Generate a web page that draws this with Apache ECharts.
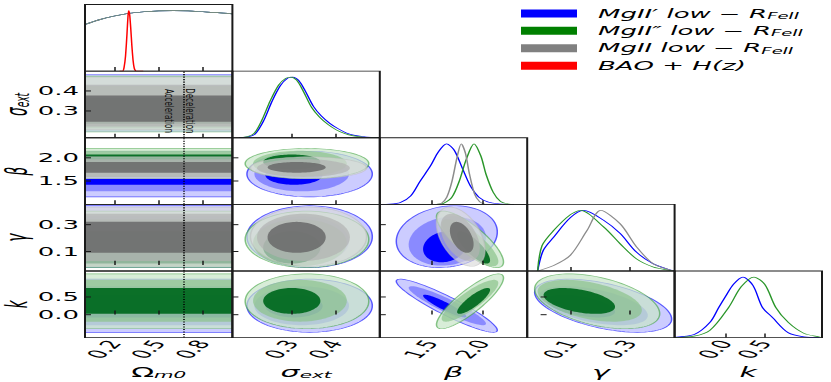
<!DOCTYPE html>
<html lang="en">
<head>
    <meta charset="UTF-8">
    <title>MgII triangle plot</title>
    <script src="https://cdn.jsdelivr.net/npm/echarts@6.0.0/dist/echarts.min.js"></script>
    <style>
        html, body { margin: 0; padding: 0; background: #fff; overflow: hidden; }
        #wrap { width: 831px; height: 382px; overflow: hidden; }
        /* drawn with square panels, then squeezed vertically like the published figure */
        #main { width: 831px; height: 840px; transform: scaleY(0.454762); transform-origin: 0 0; }
    </style>
</head>
<body>
<div id="wrap"><div id="main"></div></div>
<script>
// parameter order: Omega_m0, sigma_ext, beta, gamma, k
const axisRanges = [[0, 1], [0.165, 0.5], [1.0, 2.43], [-0.045, 0.45], [-0.65, 1.23]];
const axisTicks = [[0.2, 0.5, 0.8], [0.3, 0.4], [1.5, 2.0], [0.1, 0.3], [0.0, 0.5]];
const axisNames = ['{m|Ω}{s|m0}', '{i|σ}{s|ext}', '{i|β}', '{i|γ}', '{i|k}'];
const legendNames = ['MgII′ low − R_FeII', 'MgII″ low − R_FeII', 'MgII low − R_FeII', 'BAO + H(z)'];
const decelOmega = 0.667;

// 1D marginals, [value, P/Pmax]
const omegaFlat = [[0, 0.77], [0.1, 0.85], [0.2, 0.91], [0.3, 0.955], [0.4, 0.98], [0.5, 0.995], [0.6, 1.0], [0.7, 0.995], [0.8, 0.98], [0.9, 0.965], [1.0, 0.945]];
const baoOmega = [[0.235, 0], [0.255, 0], [0.265, 0.06], [0.275, 0.25], [0.285, 0.62], [0.292, 0.92], [0.297, 1.0], [0.303, 0.93], [0.31, 0.72], [0.318, 0.42], [0.326, 0.18], [0.334, 0.05], [0.342, 0.008], [0.35, 0], [0.395, 0]];
const blueSigma = [[0.18, 0], [0.2, 0.015], [0.217, 0.065], [0.236, 0.28], [0.255, 0.6], [0.274, 0.86], [0.29, 0.98], [0.302, 1.0], [0.315, 0.95], [0.33, 0.78], [0.349, 0.52], [0.367, 0.36], [0.386, 0.24], [0.405, 0.15], [0.424, 0.08], [0.443, 0.04], [0.461, 0.02], [0.48, 0.008], [0.5, 0.002]];
const greenSigma = [[0.18, 0], [0.2, 0.02], [0.215, 0.075], [0.232, 0.29], [0.251, 0.61], [0.27, 0.87], [0.286, 0.98], [0.298, 1.0], [0.311, 0.95], [0.326, 0.77], [0.345, 0.5], [0.363, 0.34], [0.382, 0.22], [0.401, 0.13], [0.42, 0.07], [0.44, 0.03], [0.46, 0.012], [0.48, 0.004], [0.5, 0.001]];
const blueBeta = [[1.0, 0], [1.1, 0.004], [1.2, 0.03], [1.3, 0.14], [1.39, 0.38], [1.49, 0.63], [1.57, 0.87], [1.647, 1.0], [1.72, 0.9], [1.8, 0.6], [1.88, 0.3], [1.96, 0.12], [2.05, 0.04], [2.15, 0.01], [2.3, 0]];
const greenBeta = [[1.55, 0], [1.62, 0.02], [1.7, 0.12], [1.77, 0.38], [1.84, 0.75], [1.914, 1.0], [1.98, 0.8], [2.03, 0.5], [2.1, 0.2], [2.17, 0.05], [2.25, 0.005], [2.3, 0]];
const grayBeta = [[1.55, 0], [1.6, 0.02], [1.65, 0.12], [1.7, 0.38], [1.75, 0.78], [1.79, 1.0], [1.83, 0.85], [1.87, 0.5], [1.92, 0.17], [1.97, 0.04], [2.02, 0]];
const blueGamma = [[-0.01, 0], [0.009, 0.34], [0.044, 0.56], [0.1, 0.88], [0.144, 1.0], [0.211, 0.84], [0.267, 0.62], [0.322, 0.31], [0.378, 0.12], [0.433, 0.02], [0.45, 0.005]];
const greenGamma = [[-0.01, 0], [0.005, 0.42], [0.044, 0.67], [0.1, 0.93], [0.133, 1.0], [0.211, 0.73], [0.267, 0.45], [0.322, 0.2], [0.378, 0.066], [0.433, 0.01], [0.45, 0.003]];
const grayGamma = [[-0.009, 0], [0.044, 0.09], [0.1, 0.26], [0.156, 0.67], [0.202, 1.0], [0.267, 0.78], [0.322, 0.4], [0.378, 0.12], [0.433, 0.02], [0.45, 0.005]];
const blueK = [[-0.65, 0.005], [-0.4, 0.05], [-0.2, 0.25], [-0.086, 0.5], [0, 0.68], [0.1, 0.88], [0.222, 1.0], [0.35, 0.86], [0.47, 0.5], [0.6, 0.33], [0.8, 0.08], [1.0, 0.012], [1.2, 0]];
const greenK = [[-0.65, 0.002], [-0.4, 0.025], [-0.2, 0.12], [0.04, 0.5], [0.2, 0.84], [0.363, 1.0], [0.5, 0.88], [0.64, 0.5], [0.8, 0.25], [1.0, 0.07], [1.2, 0.01], [1.23, 0.005]];

// 2D contour extents per parameter: [inner, middle, outer] intervals
const blueSigmaLv = [[0.24, 0.37], [0.215, 0.43], [0.198, 0.483]];
const greenSigmaLv = [[0.235, 0.365], [0.212, 0.425], [0.194, 0.475]];
const graySigmaLv = [[0.245, 0.377], [0.221, 0.432], [0.206, 0.47]];
const blueBetaLv = [[1.42, 1.84], [1.28, 2.03], [1.16, 2.14]];
const greenBetaLv = [[1.75, 2.07], [1.6, 2.15], [1.55, 2.2]];
const grayBetaLv = [[1.68, 1.91], [1.59, 1.97], [1.55, 2.02]];
const blueGammaLv = [[0.02, 0.25], [-0.005, 0.36], [-0.02, 0.44]];
const greenGammaLv = [[0.01, 0.25], [-0.01, 0.34], [-0.02, 0.40]];
const grayGammaLv = [[0.09, 0.32], [0.03, 0.38], [-0.01, 0.43]];
const blueKLv = [[-0.08, 0.56], [-0.3, 0.8], [-0.5, 1.0]];
const greenKLv = [[0.02, 0.75], [-0.2, 0.98], [-0.4, 1.15]];

// correlation for pairs (x, y): sig-beta, sig-gam, sig-k, beta-gam, beta-k, gam-k
const pairs = [[1, 2], [1, 3], [1, 4], [2, 3], [2, 4], [3, 4]];
const blueRho = [0, 0, 0, 0.15, -0.92, -0.5];
const greenRho = [0, 0, 0, -0.8, 0.85, -0.45];
const grayRho = [0, 0, 0, -0.45, 0, 0];

const sets = [
    {name: legendNames[0], color: '#0000ff', edge: 'rgba(40,40,255,0.75)',
     fills: ['rgba(0,0,255,1)', 'rgba(0,0,255,0.32)', 'rgba(0,0,255,0.2)'],
     pdf: [omegaFlat, blueSigma, blueBeta, blueGamma, blueK],
     lv: [null, blueSigmaLv, blueBetaLv, blueGammaLv, blueKLv], rho: blueRho},
    {name: legendNames[1], color: '#2a962a', edge: 'rgba(60,160,60,0.6)',
     fills: ['rgba(0,105,30,0.93)', 'rgba(140,195,140,0.7)', 'rgba(200,230,200,0.7)'],
     pdf: [omegaFlat, greenSigma, greenBeta, greenGamma, greenK],
     lv: [null, greenSigmaLv, greenBetaLv, greenGammaLv, greenKLv], rho: greenRho},
    {name: legendNames[2], color: '#8c8c8c', edge: 'rgba(190,190,190,0.6)',
     fills: ['rgba(105,105,105,0.85)', 'rgba(178,178,178,0.7)', 'rgba(218,218,218,0.65)'],
     pdf: [omegaFlat, null, grayBeta, grayGamma, null],
     lv: [null, graySigmaLv, grayBetaLv, grayGammaLv, null], rho: grayRho}
];
const legendColors = ['#0000ff', '#008000', '#808080', '#ff0000'];

const font = 'DejaVu Sans';
const panelLeft = 85, panelTop = 9.9, panelW = 147.4, panelH = 146.5;

var myChart = echarts.init(document.getElementById('main'), null, {renderer: 'svg', width: 831, height: 840});

function ellipseItem(params, api) {
    const s = sets[api.value(5)], lv = api.value(6);
    const cx = (api.value(0) + api.value(1)) / 2, hx = (api.value(1) - api.value(0)) / 2;
    const cy = (api.value(2) + api.value(3)) / 2, hy = (api.value(3) - api.value(2)) / 2;
    const rho = api.value(4), q = Math.sqrt(1 - rho * rho);
    const pts = [];
    for (let i = 0; i < 96; i++) {
        const t = i / 96 * Math.PI * 2;
        pts.push(api.coord([cx + hx * Math.cos(t), cy + hy * (rho * Math.cos(t) + q * Math.sin(t))]));
    }
    return {type: 'polygon', shape: {points: pts},
        style: {fill: s.fills[lv], stroke: lv === 2 ? s.edge : 'none', lineWidth: 1.5}};
}

function bandItem(params, api) {
    const s = sets[api.value(2)], lv = api.value(3);
    const a = api.coord([axisRanges[0][0], api.value(1)]);
    const b = api.coord([axisRanges[0][1], api.value(0)]);
    return {type: 'rect', shape: {x: a[0], y: a[1], width: b[0] - a[0], height: b[1] - a[1]},
        style: {fill: s.fills[lv], stroke: lv === 2 ? s.edge : 'none', lineWidth: 1.5}};
}

const nameRich = {
    m: {fontSize: 30, fontFamily: font, color: '#000', lineHeight: 34},
    i: {fontSize: 30, fontFamily: font, fontStyle: 'italic', color: '#000', lineHeight: 34},
    s: {fontSize: 20, fontFamily: font, fontStyle: 'italic', color: '#000', lineHeight: 20, verticalAlign: 'bottom'}
};

const grids = [], xAxes = [], yAxes = [], series = [];
let g = 0;
for (let r = 0; r < 5; r++) {
    for (let c = 0; c <= r; c++) {
        const diag = r === c;
        grids.push({left: panelLeft + c * panelW, top: panelTop + r * panelH, width: panelW, height: panelH,
            show: true, borderColor: '#1a1a1a', borderWidth: 2, backgroundColor: 'transparent', z: 10});
        xAxes.push({
            type: 'value', gridIndex: g, min: axisRanges[c][0], max: axisRanges[c][1], z: 11,
            splitLine: {show: false}, axisLine: {show: false},
            axisTick: {show: true, inside: true, length: 9, customValues: axisTicks[c], lineStyle: {color: '#1a1a1a', width: 1.5}},
            axisLabel: {show: r === 4, customValues: axisTicks[c], formatter: v => v.toFixed(1), rotate: 60,
                fontSize: 26, fontFamily: font, color: '#000', margin: 8},
            name: r === 4 ? axisNames[c] : '', nameLocation: 'middle', nameGap: 58,
            nameTextStyle: {rich: nameRich}
        });
        yAxes.push(diag ? {
            type: 'value', gridIndex: g, min: 0, max: 1.1, z: 11,
            splitLine: {show: false}, axisLine: {show: false}, axisTick: {show: false}, axisLabel: {show: false}
        } : {
            type: 'value', gridIndex: g, min: axisRanges[r][0], max: axisRanges[r][1], z: 11,
            splitLine: {show: false}, axisLine: {show: false},
            axisTick: {show: true, inside: true, length: 6, customValues: axisTicks[r], lineStyle: {color: '#1a1a1a', width: 2.2}},
            axisLabel: {show: c === 0, customValues: axisTicks[r], formatter: v => v.toFixed(1),
                fontSize: 26, fontFamily: font, color: '#000', margin: 6},
            name: c === 0 ? axisNames[r] : '', nameLocation: 'middle', nameGap: 52,
            nameTextStyle: {rich: nameRich}
        });

        if (diag) {
            sets.forEach(s => {
                if (!s.pdf[c]) return;
                series.push({type: 'line', name: s.name, xAxisIndex: g, yAxisIndex: g, data: s.pdf[c],
                    smooth: 0.3, showSymbol: false, silent: true, z: 3,
                    lineStyle: {color: s.color, width: 1.5}, itemStyle: {color: s.color}});
            });
            if (c === 0) {
                series.push({type: 'line', name: legendNames[3], xAxisIndex: g, yAxisIndex: g, data: baoOmega,
                    smooth: 0.25, showSymbol: false, silent: true, z: 4,
                    lineStyle: {color: '#ff0000', width: 1.5}, itemStyle: {color: '#ff0000'}});
            }
        } else {
            const items = [];
            sets.forEach((s, si) => {
                const yb = s.lv[r];
                if (!yb) return;
                if (c === 0) {
                    for (let lv = 2; lv >= 0; lv--) items.push([yb[lv][0], yb[lv][1], si, lv]);
                } else {
                    const xb = s.lv[c];
                    if (!xb) return;
                    const rho = s.rho[pairs.findIndex(p => p[0] === c && p[1] === r)];
                    for (let lv = 2; lv >= 0; lv--) items.push([xb[lv][0], xb[lv][1], yb[lv][0], yb[lv][1], rho, si, lv]);
                }
            });
            const cs = {type: 'custom', name: 'contours', xAxisIndex: g, yAxisIndex: g, clip: true, silent: true, z: 2,
                renderItem: c === 0 ? bandItem : ellipseItem, data: items};
            if (c === 0) {
                cs.markLine = {silent: true, symbol: 'none', label: {show: false},
                    lineStyle: {color: '#000', type: [2.5, 3], width: 1.6}, data: [{xAxis: decelOmega}]};
            }
            series.push(cs);
        }
        g++;
    }
}

var option = {
    animation: false,
    backgroundColor: '#fff',
    grid: grids,
    xAxis: xAxes,
    yAxis: yAxes,
    legend: {
        orient: 'vertical', left: 521, top: 16.5, padding: 0, itemGap: 10.3,
        itemWidth: 56, itemHeight: 17.6, icon: 'rect', selectedMode: false,
        data: legendNames.map((n, i) => ({name: n, itemStyle: {color: legendColors[i]}})),
        formatter: n => {
            const p = n.split('_');
            return p.length > 1 ? '{m|' + p[0] + '}{s|' + p[1] + '}' : '{m|' + n + '}';
        },
        textStyle: {
            rich: {
                m: {fontSize: 26, fontFamily: font, fontStyle: 'italic', color: '#000', lineHeight: 30, padding: [0, 0, 0, 16]},
                s: {fontSize: 18, fontFamily: font, fontStyle: 'italic', color: '#000', lineHeight: 18, verticalAlign: 'bottom'}
            }
        }
    },
    series: series
};
myChart.setOption(option);

// labels either side of the deceleration/acceleration boundary
const pt = myChart.convertToPixel({gridIndex: 1}, [decelOmega, 0.3]);
myChart.setOption({
    graphic: [
        {type: 'text', x: pt[0] - 20, y: pt[1], rotation: -Math.PI / 2, scaleX: 1.3, z: 20,
         style: {text: 'Acceleration', fontSize: 12, fontFamily: font, fill: '#111', align: 'center', verticalAlign: 'bottom'}},
        {type: 'text', x: pt[0] + 0.5, y: pt[1], rotation: -Math.PI / 2, scaleX: 1.3, z: 20,
         style: {text: 'Deceleration', fontSize: 12, fontFamily: font, fill: '#111', align: 'center', verticalAlign: 'bottom'}}
    ]
});
</script>
</body>
</html>
